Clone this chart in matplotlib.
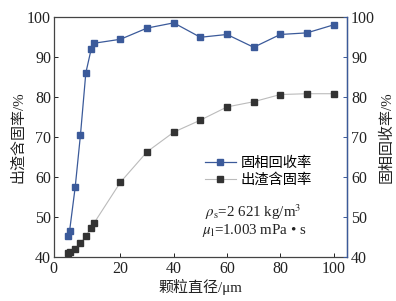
import matplotlib
matplotlib.use("Agg")
import matplotlib.pyplot as plt

plt.rcParams['font.family'] = ['Liberation Serif', 'Noto Sans CJK SC']
plt.rcParams['mathtext.fontset'] = 'stix'

# data
diam = [0.2, 0.9, 3.0, 5.0, 7.0, 9.0, 10.0, 20, 30, 40, 50, 60, 70, 80, 90, 100]
recovery = [45.2, 46.5, 57.4, 70.6, 86.0, 91.9, 93.4, 94.4, 97.2, 98.5, 94.9, 95.6, 92.4, 95.6, 96.0, 98.0]
solid_content = [41.0, 41.2, 42.0, 43.4, 45.3, 47.3, 48.4, 58.7, 66.3, 71.2, 74.2, 77.5, 78.8, 80.6, 80.8, 80.8]
xtick_pos = [-5, 20, 40, 60, 80, 100]
xtick_labels = ['0', '20', '40', '60', '80', '100']
ytick_vals = [40, 50, 60, 70, 80, 90, 100]

blue = '#3b5a9a'
dark = '#333333'

fig = plt.figure(figsize=(3.96, 3.01), dpi=100)
ax = fig.add_axes([0.136, 0.146, 0.740, 0.798])
ax2 = ax.twinx()

l1, = ax.plot(diam, solid_content, color='#bbbbbb', lw=0.8, marker='s', ms=4.2,
              mfc=dark, mec=dark, zorder=3)
l2, = ax2.plot(diam, recovery, color=blue, lw=0.9, marker='s', ms=4.2,
               mfc=blue, mec=blue, zorder=3)

ax.set_xlim(-5, 105)
ax.set_ylim(40, 100)
ax2.set_ylim(40, 100)
ax.set_xticks(xtick_pos)
ax.set_xticklabels(xtick_labels)
ax.set_yticks(ytick_vals)
ax2.set_yticks(ytick_vals)

ax.tick_params(axis='both', direction='in', length=3, width=0.7, labelsize=11.5, colors='#222222', pad=2)
ax.tick_params(axis='x', pad=3)
ax.tick_params(axis='y', right=False)
ax2.tick_params(axis='y', direction='in', length=3, width=0.7, labelsize=11.5, colors='#222222', pad=3)
ax2.tick_params(axis='y', color=blue)

for s in ['left', 'bottom', 'top']:
    ax.spines[s].set_color('#444444')
    ax.spines[s].set_linewidth(0.9)
ax2.spines['right'].set_color(blue)
ax2.spines['right'].set_linewidth(1.0)
ax2.spines['left'].set_visible(False)
ax2.spines['top'].set_visible(False)
ax2.spines['bottom'].set_visible(False)

ax.set_xlabel('颗粒直径/μm', fontsize=10.8, color='#222222', labelpad=1)
ax.set_ylabel('出渣含固率/%', fontsize=10.8, color='#222222', labelpad=1)
ax2.set_ylabel('固相回收率/%', fontsize=10.8, color='#222222', labelpad=3)

leg = ax.legend([l2, l1], ['固相回收率', '出渣含固率'], loc='upper left',
                bbox_to_anchor=(0.48, 0.46), frameon=False, fontsize=10.3,
                handlelength=2.2, handletextpad=0.3, labelspacing=0.2,
                borderpad=0.2)

ax.text(0.515, 0.185, r'$\rho_{\mathrm{s}}$=2 621 kg/m$^3$', transform=ax.transAxes,
        fontsize=10.8, color='#222222', va='center', ha='left')
ax.text(0.505, 0.11, r'$\mu_{\mathrm{l}}$=1.003 mPa • s', transform=ax.transAxes,
        fontsize=10.8, color='#222222', va='center', ha='left')

fig.savefig('out.png', dpi=100)
